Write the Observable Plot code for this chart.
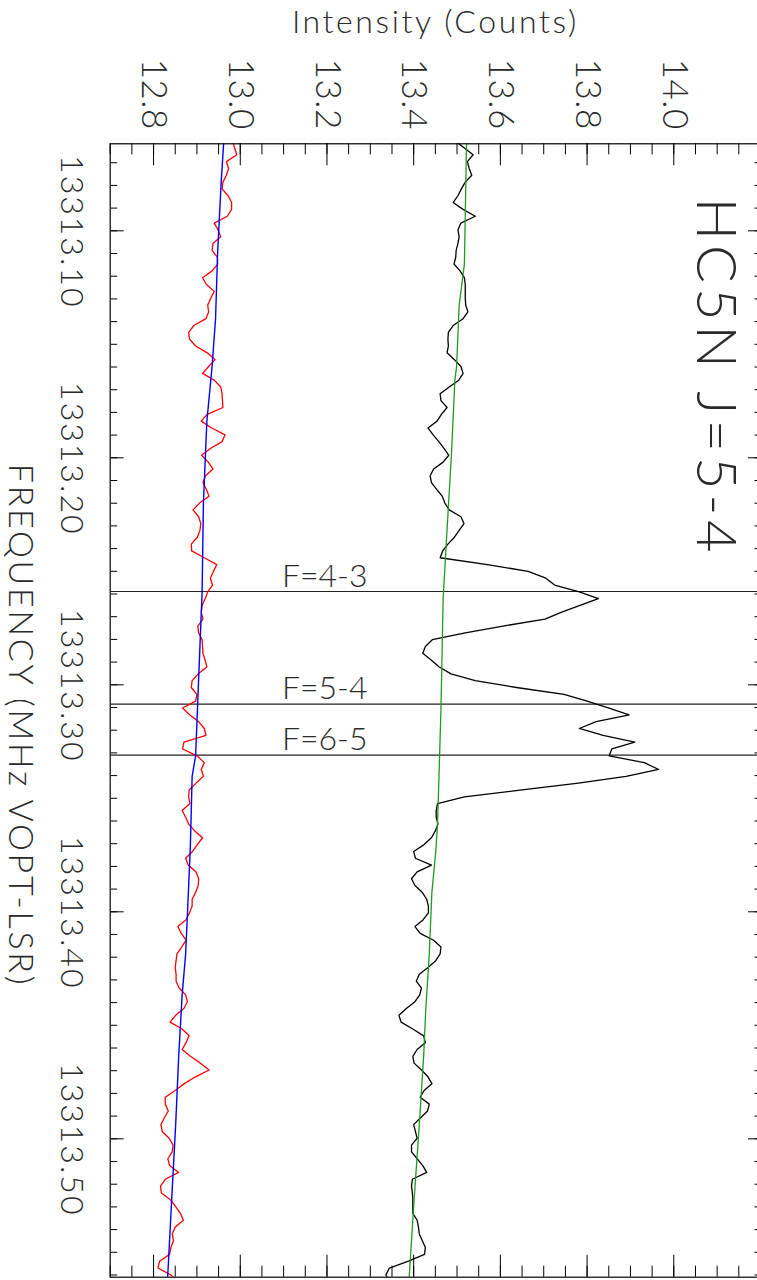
<!DOCTYPE html>
<html><head><meta charset="utf-8">
<script src="https://cdn.jsdelivr.net/npm/d3@7"></script>
<script src="https://cdn.jsdelivr.net/npm/@observablehq/plot@0.6"></script>
<style>
html,body{margin:0;padding:0;width:757px;height:1280px;overflow:hidden;background:#fff;}
#wrap{position:absolute;left:0;top:0;width:1280px;height:761px;transform-origin:0 0;transform:translate(761px,0) rotate(90deg);}
</style></head><body><div id="wrap"></div>
<script>
// ---- data ----
const chanStart = 13313.060485;   // MHz, first channel
const chanWidth = 0.0030088;      // MHz per channel

const blackSpectrum = [
 13.496,13.517,13.537,13.524,13.528,13.534,13.519,13.510,13.502,13.491,
 13.514,13.542,13.509,13.502,13.505,13.502,13.498,13.497,13.493,13.507,
 13.517,13.519,13.519,13.519,13.520,13.525,13.514,13.491,13.480,13.479,
 13.480,13.477,13.494,13.509,13.514,13.504,13.482,13.461,13.463,13.477,
 13.464,13.454,13.433,13.445,13.458,13.470,13.481,13.468,13.446,13.438,
 13.441,13.453,13.466,13.472,13.482,13.509,13.516,13.505,13.494,13.479,
 13.467,13.461,13.570,13.664,13.705,13.725,13.782,13.826,13.782,13.740,
 13.703,13.606,13.519,13.443,13.427,13.421,13.441,13.459,13.486,13.542,
 13.637,13.747,13.800,13.849,13.897,13.821,13.782,13.837,13.910,13.857,
 13.851,13.932,13.965,13.890,13.780,13.650,13.517,13.455,13.452,13.452,
 13.456,13.450,13.441,13.424,13.400,13.404,13.441,13.408,13.395,13.403,
 13.420,13.430,13.434,13.434,13.422,13.403,13.415,13.446,13.463,13.461,
 13.451,13.433,13.413,13.406,13.418,13.414,13.403,13.383,13.366,13.371,
 13.398,13.423,13.427,13.408,13.398,13.401,13.418,13.433,13.442,13.424,
 13.415,13.436,13.432,13.416,13.400,13.404,13.408,13.395,13.395,13.408,
 13.421,13.430,13.397,13.395,13.397,13.398,13.398,13.398,13.408,13.411,
 13.413,13.420,13.427,13.425,13.388,13.344,13.336,13.344];

const redSpectrum = [
 12.982,12.987,12.992,12.968,12.973,12.968,12.960,12.958,12.972,12.980,
 12.980,12.970,12.940,12.949,12.955,12.937,12.935,12.947,12.948,12.935,
 12.913,12.922,12.940,12.932,12.925,12.927,12.921,12.893,12.881,12.883,
 12.897,12.924,12.942,12.927,12.913,12.940,12.955,12.958,12.959,12.960,
 12.924,12.910,12.934,12.965,12.958,12.931,12.911,12.926,12.937,12.920,
 12.914,12.922,12.928,12.906,12.891,12.904,12.909,12.907,12.901,12.887,
 12.888,12.917,12.946,12.938,12.931,12.936,12.925,12.919,12.912,12.910,
 12.914,12.902,12.904,12.912,12.913,12.914,12.919,12.923,12.903,12.889,
 12.887,12.900,12.897,12.867,12.883,12.904,12.917,12.921,12.870,12.867,
 12.900,12.917,12.910,12.915,12.898,12.882,12.881,12.884,12.866,12.874,
 12.881,12.895,12.913,12.901,12.890,12.874,12.880,12.898,12.904,12.903,
 12.897,12.889,12.889,12.883,12.875,12.856,12.864,12.875,12.865,12.854,
 12.852,12.850,12.852,12.852,12.859,12.874,12.878,12.870,12.851,12.838,
 12.866,12.882,12.875,12.866,12.885,12.908,12.928,12.897,12.871,12.850,
 12.827,12.827,12.834,12.825,12.817,12.820,12.836,12.845,12.843,12.833,
 12.837,12.858,12.827,12.816,12.818,12.839,12.851,12.862,12.869,12.850,
 12.843,12.846,12.840,12.837,12.814,12.810,12.840,12.855];

const greenFitChannels = [0,18,24,33,35,46,58,67,83,96,100,104,110,119,127,134,144,155,167];
const greenFit = [13.522,13.517,13.505,13.499,13.495,13.487,13.476,13.468,13.463,13.457,13.455,13.451,13.442,13.436,13.428,13.423,13.413,13.401,13.389];
const blueFitChannels = [0,6,16,26,33,41,53,66,82,90,93,103,112,119,125,134,144,156,167];
const blueFit = [12.962,12.956,12.948,12.943,12.935,12.923,12.915,12.912,12.902,12.897,12.889,12.885,12.879,12.874,12.866,12.858,12.851,12.841,12.832];

const lineFreqs = [13313.2589, 13313.3085, 13313.3310];
const lineLabels = ["F=4-3", "F=5-4", "F=6-5"];

const freqTicks = [13313.10, 13313.20, 13313.30, 13313.40, 13313.50];
const freqTickLabels = ["13313.10", "13313.20", "13313.30", "13313.40", "13313.50"];
const intTicks = [12.8, 13.0, 13.2, 13.4, 13.6, 13.8, 14.0];
const intTickLabels = ["12.8", "13.0", "13.2", "13.4", "13.6", "13.8", "14.0"];

const freqDomain = [13313.06167, 13313.56097];
const intDomain = [12.7, 14.2];

const title = "HC5N J=5-4";
const xTitle = "FREQUENCY (MHz VOPT-LSR)";
const yTitle = "Intensity (Counts)";

// ---- build ----
const toRows = (arr) => arr.map((v, i) => ({f: chanStart + i * chanWidth, v}));
const fitRows = (ch, arr) => ch.map((c, i) => ({f: chanStart + c * chanWidth, v: arr[i]}));

const W = 1280, H = 761;
const mL = 143.3, mR = 3.3, mT = 0, mB = 110.7;
const frameW = W - mL - mR, frameH = H - mT - mB;

const freqMinor = d3.range(7, 57).map(i => 13313 + i * 0.01);
const intMinor = d3.range(0, 31).map(i => 12.7 + i * 0.05);

const font = "Lato, 'Liberation Sans', Arial, sans-serif";
const txt = "#2a2a2a";
const fw = 300;

const chart = Plot.plot({
  width: W, height: H,
  marginLeft: mL, marginRight: mR, marginTop: mT, marginBottom: mB,
  x: {domain: freqDomain, axis: null},
  y: {domain: intDomain, axis: null},
  style: {fontFamily: font, background: "white", overflow: "visible"},
  marks: [
    // ticks (inward, all four sides)
    Plot.tickX(freqMinor, {x: d => d, insetTop: frameH - 6.5, stroke: "black", strokeWidth: 1}),
    Plot.tickX(freqMinor, {x: d => d, insetBottom: frameH - 6.5, stroke: "black", strokeWidth: 1}),
    Plot.tickX(freqTicks, {x: d => d, insetTop: frameH - 13, stroke: "black", strokeWidth: 1}),
    Plot.tickX(freqTicks, {x: d => d, insetBottom: frameH - 13, stroke: "black", strokeWidth: 1}),
    Plot.tickY(intMinor, {y: d => d, insetRight: frameW - 11, stroke: "black", strokeWidth: 1}),
    Plot.tickY(intMinor, {y: d => d, insetLeft: frameW - 11, stroke: "black", strokeWidth: 1}),
    Plot.tickY(intTicks, {y: d => d, insetRight: frameW - 22, stroke: "black", strokeWidth: 1}),
    Plot.tickY(intTicks, {y: d => d, insetLeft: frameW - 22, stroke: "black", strokeWidth: 1}),
    // hyperfine component markers
    Plot.ruleX(lineFreqs, {x: d => d, stroke: "#222", strokeWidth: 1.2}),
    Plot.text(lineFreqs, {x: d => d, y: () => 13.096, text: (d, i) => lineLabels[i], rotate: -90,
      textAnchor: "start", lineAnchor: "bottom", dx: -5, fontSize: 32, fill: txt, fontWeight: fw}),
    // spectra and fits
    Plot.line(toRows(redSpectrum), {x: "f", y: "v", stroke: "#ff0000", strokeWidth: 1.3, clip: true}),
    Plot.line(fitRows(blueFitChannels, blueFit), {x: "f", y: "v", stroke: "#0000ff", strokeWidth: 1.4, clip: true}),
    Plot.line(toRows(blackSpectrum), {x: "f", y: "v", stroke: "black", strokeWidth: 1.3, clip: true}),
    Plot.line(fitRows(greenFitChannels, greenFit), {x: "f", y: "v", stroke: "#1f9a1f", strokeWidth: 1.3, clip: true}),
    // tick labels
    Plot.text(freqTicks, {x: d => d, text: (d, i) => freqTickLabels[i], frameAnchor: "bottom",
      dy: 39, dx: 1, lineAnchor: "middle", fontSize: 32, fill: txt, fontWeight: fw}),
    Plot.text(intTicks, {y: d => d, text: (d, i) => intTickLabels[i], frameAnchor: "left",
      dx: -14, textAnchor: "end", lineAnchor: "middle", fontSize: 35, fill: txt, fontWeight: fw}),
    // titles
    Plot.text([yTitle], {frameAnchor: "left", dx: -121, dy: 0, rotate: -90, textAnchor: "middle",
      lineAnchor: "middle", fontSize: 32, fill: txt, fontWeight: fw}),
    Plot.text([xTitle], {frameAnchor: "bottom", dx: 15, dy: 90, lineAnchor: "middle",
      fontSize: 34, fill: txt, fontWeight: fw}),
    Plot.text([title], {frameAnchor: "top-left", dx: 54, dy: 46, textAnchor: "start",
      lineAnchor: "middle", fontSize: 56, fill: txt, fontWeight: fw}),
    Plot.frame({stroke: "black", strokeWidth: 1.2})
  ]
});

// letter spacing to imitate the wide stroke-font spacing of the original
const textGroups = chart.querySelectorAll('g[aria-label="text"]');
const spacing = ["0px", "2px", "0.5px", "2.6px", "2.7px", "5px"];
textGroups.forEach((g, i) => { g.style.letterSpacing = spacing[i] || "0px"; });

document.getElementById("wrap").appendChild(chart);
</script></body></html>
